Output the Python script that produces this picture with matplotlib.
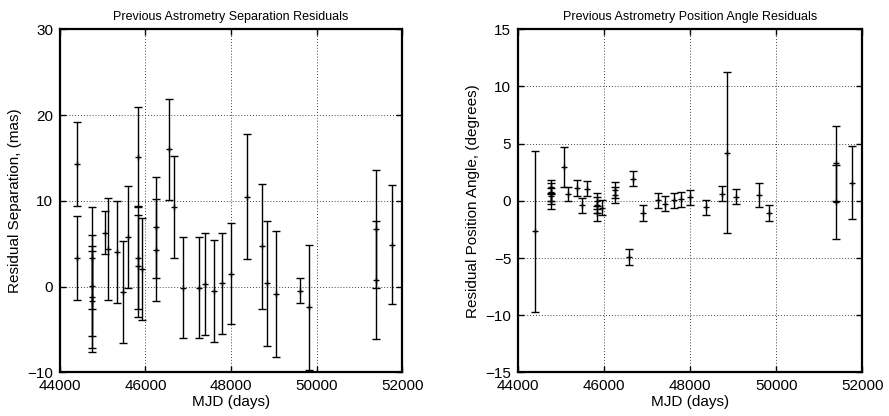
import matplotlib
matplotlib.use("Agg")
import matplotlib.pyplot as plt
import numpy as np

plt.rcParams['font.family'] = ['Liberation Sans', 'DejaVu Sans']

# Separation residuals (mas)
sep_mjd = [44390, 44390, 44760, 44760, 44760, 44760, 45065, 45135, 45340, 45470,
           45580, 45820, 45820, 45820, 45930, 46240, 46240, 46560, 46655, 46880,
           47245, 47390, 47600, 47780, 47990, 48365, 48730, 48840, 49050, 49610,
           49825, 51383, 51383, 51752]
sep_res = [14.3, 3.3, 3.3, 0.1, -1.2, -1.7, 6.3, 4.4, 4.05, -0.65,
           5.8, 15.1, 2.4, 3.4, 2.1, 6.9, 4.3, 16.0, 9.3, -0.1,
           -0.1, 0.3, -0.5, 0.4, 1.5, 10.5, 4.7, 0.4, -0.85, -0.45,
           -2.4, 6.75, 0.8, 4.9]
sep_err = [4.85, 4.9, 5.95, 5.9, 5.9, 5.9, 2.5, 5.95, 5.95, 5.95,
           5.95, 5.8, 5.95, 5.95, 5.95, 5.9, 5.95, 5.9, 5.9, 5.9,
           5.9, 5.9, 5.9, 5.9, 5.9, 7.3, 7.3, 7.3, 7.3, 1.5,
           7.3, 6.9, 6.9, 6.95]

# Position angle residuals (degrees)
pa_mjd = [44400, 44765, 44765, 44765, 44765, 45070, 45150, 45360, 45480, 45600,
          45835, 45835, 45835, 45955, 46250, 46250, 46565, 46660, 46890, 47250,
          47405, 47615, 47790, 48000, 48365, 48735, 48845, 49055, 49605, 49830,
          51380, 51380, 51752]
pa_res = [-2.65, 1.2, 0.8, 0.4, 0.0, 2.97, 0.6, 1.14, -0.4, 1.08,
          0.0, -0.4, -1.1, -0.58, 0.94, 0.5, -4.9, 1.95, -1.05, 0.06,
          -0.23, 0.06, 0.15, 0.3, -0.55, 0.64, 4.2, 0.38, 0.5, -1.1,
          3.27, -0.09, 1.6]
pa_err = [7.05, 0.6, 0.8, 0.7, 0.7, 1.77, 0.65, 0.67, 0.67, 0.67,
          0.67, 0.7, 0.65, 0.65, 0.67, 0.7, 0.67, 0.67, 0.67, 0.67,
          0.67, 0.67, 0.67, 0.67, 0.67, 0.67, 7.05, 0.67, 1.05, 0.7,
          3.25, 3.25, 3.2]

xticks = [44000, 46000, 48000, 50000, 52000]

fig = plt.figure(figsize=(8.89, 4.16), dpi=100)
ax1 = fig.add_axes([0.0674, 0.1046, 0.385, 0.825])
ax2 = fig.add_axes([0.583, 0.1046, 0.387, 0.825])

def style(ax, yticks, ylim, ylabel, title):
    ax.set_xlim(44000, 52000)
    ax.set_ylim(*ylim)
    ax.set_xticks(xticks)
    ax.set_yticks(yticks)
    ax.grid(True, linestyle=(0, (1, 2)), color='#444444', linewidth=0.7)
    ax.tick_params(direction='in', top=True, right=True, length=4, width=1,
                   labelsize=11, pad=5)
    for s in ax.spines.values():
        s.set_linewidth(1.6)
    ax.set_xlabel('MJD (days)', fontsize=11, labelpad=1)
    ax.set_ylabel(ylabel, fontsize=11, labelpad=4)
    ax.set_title(title, fontsize=9, pad=7)

ax1.errorbar(sep_mjd, sep_res, yerr=sep_err, fmt='+', color='black', ms=5,
             elinewidth=1, capsize=3, capthick=1, mew=1)
style(ax1, [-10, 0, 10, 20, 30], (-10, 30), 'Residual Separation, (mas)',
      'Previous Astrometry Separation Residuals')

ax2.errorbar(pa_mjd, pa_res, yerr=pa_err, fmt='+', color='black', ms=5,
             elinewidth=1, capsize=3, capthick=1, mew=1)
style(ax2, [-15, -10, -5, 0, 5, 10, 15], (-15, 15), 'Residual Position Angle, (degrees)',
      'Previous Astrometry Position Angle Residuals')

fig.savefig('out.png', dpi=100)
